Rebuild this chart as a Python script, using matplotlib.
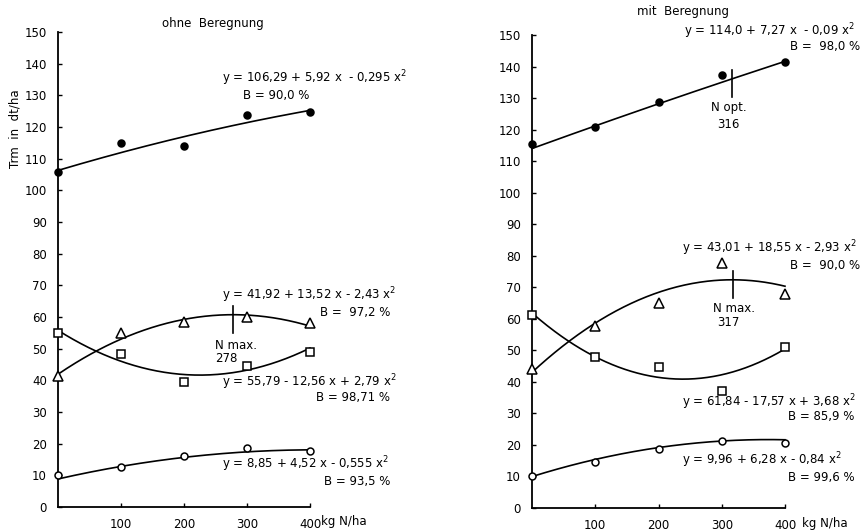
import numpy as np
import matplotlib
matplotlib.use("Agg")
import matplotlib.pyplot as plt

plt.rcParams['font.family'] = ['DejaVu Sans']
plt.rcParams['font.size'] = 8.5

N = [0, 100, 200, 300, 400]

# ohne Beregnung
left_filled = [105.8, 114.8, 114.0, 123.9, 124.7]
left_tri = [41.5, 55.0, 58.5, 60.0, 58.0]
left_sq = [55.0, 48.3, 39.5, 44.5, 49.0]
left_open = [10.2, 12.6, 16.0, 18.6, 17.8]
left_coef_filled = [-0.295, 5.92, 106.29]
left_coef_tri = [-2.43, 13.52, 41.92]
left_coef_sq = [2.79, -12.56, 55.79]
left_coef_open = [-0.555, 4.52, 8.85]

# mit Beregnung
right_filled = [115.3, 120.7, 128.8, 137.3, 141.3]
right_tri = [44.0, 57.8, 65.0, 77.7, 67.8]
right_sq = [61.2, 48.0, 44.7, 37.0, 51.0]
right_open = [10.2, 14.6, 18.7, 21.3, 20.7]
right_coef_filled = [-0.09, 7.27, 114.0]
right_coef_tri = [-2.93, 18.55, 43.01]
right_coef_sq = [3.68, -17.57, 61.84]
right_coef_open = [-0.84, 6.28, 9.96]

x_ticks = [100, 200, 300, 400]
y_ticks = list(range(0, 151, 10))

W, H = 863, 531
fig = plt.figure(figsize=(W / 100, H / 100), dpi=100)

msizes = {'o': 5, '^': 6.5, 's': 5.5}


def make_axes(x0, x1, ytop, ybot):
	ax = fig.add_axes([x0 / W, 1 - ybot / H, (x1 - x0) / W, (ybot - ytop) / H])
	ax.set_xlim(0, 400)
	ax.set_ylim(0, 150)
	ax.spines['top'].set_visible(False)
	ax.spines['right'].set_visible(False)
	for s in ['left', 'bottom']:
		ax.spines[s].set_linewidth(1.3)
	ax.set_xticks(x_ticks)
	ax.set_yticks(y_ticks)
	ax.tick_params(direction='in', length=3, width=1, pad=8, labelsize=8.5)
	ax.patch.set_alpha(0)
	return ax


def draw_series(ax, vals, coef, marker, filled):
	xs = np.linspace(0, 4, 200)
	ax.plot(xs * 100, np.polyval(coef, xs), color='black', lw=1.2, zorder=2, clip_on=False)
	face = 'black' if filled else 'white'
	ms = 5 if filled else msizes[marker]
	ax.plot(N, vals, linestyle='none', marker=marker, ms=ms, mfc=face, mec='black',
		mew=1.1, zorder=3, clip_on=False)


def mark_n(ax, n, coef):
	yc = np.polyval(coef, n / 100)
	ax.plot([n, n], [yc - 5.8, yc + 2.8], color='black', lw=1.2, zorder=2)


# left panel
ax1 = make_axes(58, 310, 32, 507)
draw_series(ax1, left_filled, left_coef_filled, 'o', True)
draw_series(ax1, left_tri, left_coef_tri, '^', False)
draw_series(ax1, left_sq, left_coef_sq, 's', False)
draw_series(ax1, left_open, left_coef_open, 'o', False)
mark_n(ax1, 278, left_coef_tri)

ax1.text(261, 135.5, 'y = 106,29 + 5,92 x  - 0,295 x$^2$', va='center')
ax1.text(294, 130, 'B = 90,0 %', va='center')
ax1.text(261, 67, 'y = 41,92 + 13,52 x - 2,43 x$^2$', va='center')
ax1.text(527, 61.5, 'B =  97,2 %', va='center', ha='right')
ax1.text(249, 51, 'N max.', va='center')
ax1.text(249, 46.8, '278', va='center')
ax1.text(261, 39.5, 'y = 55,79 - 12,56 x + 2,79 x$^2$', va='center')
ax1.text(527, 34.7, 'B = 98,71 %', va='center', ha='right')
ax1.text(261, 13.6, 'y = 8,85 + 4,52 x - 0,555 x$^2$', va='center')
ax1.text(527, 8.2, 'B = 93,5 %', va='center', ha='right')
ax1.text(418, -4.7, 'kg N/ha', va='center')

# right panel
ax2 = make_axes(532, 785, 35, 508)
draw_series(ax2, right_filled, right_coef_filled, 'o', True)
draw_series(ax2, right_tri, right_coef_tri, '^', False)
draw_series(ax2, right_sq, right_coef_sq, 's', False)
draw_series(ax2, right_open, right_coef_open, 'o', False)
mark_n(ax2, 316, right_coef_filled)
mark_n(ax2, 317, right_coef_tri)

ax2.text(241, 151.3, 'y = 114,0 + 7,27 x  - 0,09 x$^2$', va='center')
ax2.text(518, 146.5, 'B =  98,0 %', va='center', ha='right')
ax2.text(283, 127, 'N opt.', va='center')
ax2.text(293, 121.5, '316', va='center')
ax2.text(237, 82.4, 'y = 43,01 + 18,55 x - 2,93 x$^2$', va='center')
ax2.text(518, 77, 'B =  90,0 %', va='center', ha='right')
ax2.text(286, 63.4, 'N max.', va='center')
ax2.text(292, 58.7, '317', va='center')
ax2.text(237, 33.6, 'y = 61,84 - 17,57 x + 3,68 x$^2$', va='center')
ax2.text(510, 28.9, 'B = 85,9 %', va='center', ha='right')
ax2.text(237, 15.2, 'y = 9,96 + 6,28 x - 0,84 x$^2$', va='center')
ax2.text(510, 9.8, 'B = 99,6 %', va='center', ha='right')
ax2.text(427, -4.8, 'kg N/ha', va='center')

fig.text(15 / W, 1 - 129 / H, 'Trm  in  dt/ha', rotation=90, ha='center', va='center')
fig.text(213 / W, 1 - 23 / H, 'ohne  Beregnung', ha='center', va='center')
fig.text(683 / W, 1 - 12 / H, 'mit  Beregnung', ha='center', va='center')

fig.savefig('out.png', dpi=100)
